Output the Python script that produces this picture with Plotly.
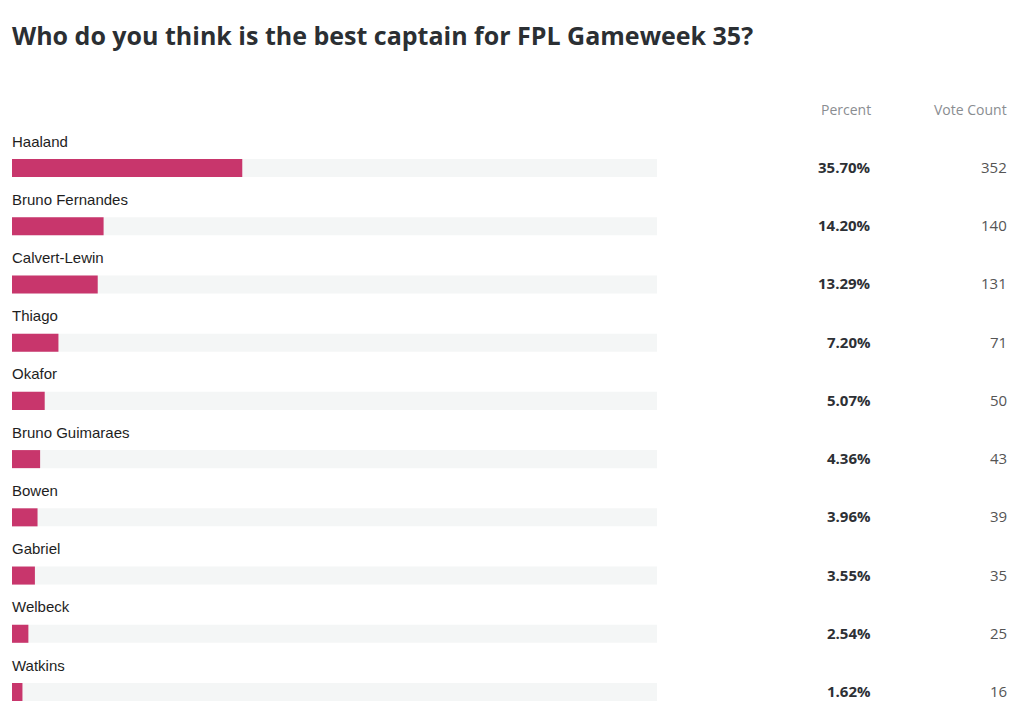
import plotly.graph_objects as go

# ==================== Data ====================
players = ["Haaland", "Bruno Fernandes", "Calvert-Lewin", "Thiago", "Okafor",
           "Bruno Guimaraes", "Bowen", "Gabriel", "Welbeck", "Watkins"]
percent = [35.70, 14.20, 13.29, 7.20, 5.07, 4.36, 3.96, 3.55, 2.54, 1.62]
votes = [352, 140, 131, 71, 50, 43, 39, 35, 25, 16]

W, H = 1024, 713
OFF = 8  # page body margin shifts the figure by 8px
rows = [-i for i in range(len(players))]


def px(x):
    return (x - OFF) / W


def py(y):
    return 1 - (y - OFF) / H


# ==================== Bars ====================
fig = go.Figure()

# grey track behind each bar
fig.add_trace(go.Bar(
    x=[100] * len(players), y=rows, orientation='h', width=0.31,
    marker=dict(color='#f4f6f6', line=dict(width=0)),
    hoverinfo='skip', showlegend=False
))

fig.add_trace(go.Bar(
    x=percent, y=rows, orientation='h', width=0.31,
    marker=dict(color='#c8366c', line=dict(width=0)),
    customdata=votes, hovertemplate='%{x:.2f}%<br>%{customdata} votes<extra></extra>',
    showlegend=False
))

# ==================== Text ====================
ann = []
for r, name, p, v in zip(rows, players, percent, votes):
    ann.append(dict(x=px(10), y=r, xref='paper', yref='y', text=name,
                    xanchor='left', yanchor='middle', yshift=27, showarrow=False,
                    font=dict(family='Liberation Sans, Arial', size=15, color='#1e1e1e')))
    ann.append(dict(x=px(873), y=r, xref='paper', yref='y', text=f"<b>{p:.2f}%</b>",
                    xanchor='right', yanchor='middle', yshift=1, showarrow=False,
                    font=dict(family='Open Sans', size=15, color='#2d3035')))
    ann.append(dict(x=px(1009), y=r, xref='paper', yref='y', text=str(v),
                    xanchor='right', yanchor='middle', yshift=1, showarrow=False,
                    font=dict(family='Open Sans', size=15, color='#555555')))

for label, xpos in [("Percent", 873), ("Vote Count", 1009)]:
    ann.append(dict(x=px(xpos), y=py(110), xref='paper', yref='paper', text=label,
                    xanchor='right', yanchor='middle', showarrow=False,
                    font=dict(family='Open Sans', size=14, color='#8a8d91')))

ann.append(dict(x=px(10), y=py(35), xref='paper', yref='paper',
                text="<b>Who do you think is the best captain for FPL Gameweek 35?</b>",
                xanchor='left', yanchor='middle', showarrow=False,
                font=dict(family='Open Sans', size=25, color='#2b2f33')))

# ==================== Layout ====================
px_per_row = (692 - 168) / 9
top_c = 168 - OFF  # first bar centre in figure pixels
fig.update_layout(
    width=W, height=H,
    margin=dict(l=0, r=0, t=0, b=0),
    barmode='overlay',
    plot_bgcolor='white', paper_bgcolor='white',
    xaxis=dict(domain=[px(12), px(657)], range=[0, 100], visible=False, fixedrange=True),
    yaxis=dict(range=[-(H - top_c) / px_per_row, top_c / px_per_row], visible=False, fixedrange=True),
    annotations=ann
)

fig.write_html("out.html")
